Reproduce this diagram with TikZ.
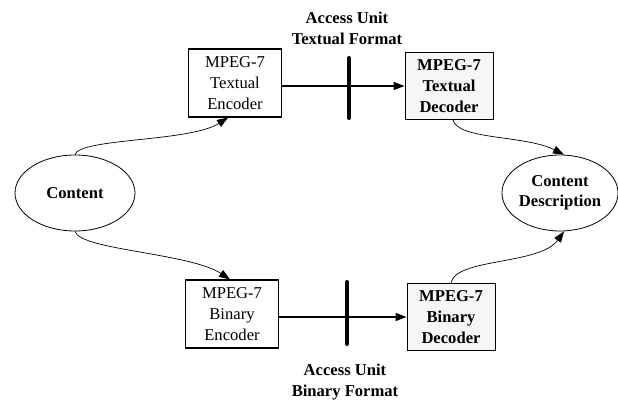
\documentclass[tikz,border=0pt]{standalone}
\usepackage{fontspec}
\setmainfont{Liberation Serif}
\usetikzlibrary{arrows.meta,shapes.geometric,calc}
\begin{document}
\begin{tikzpicture}[x=1pt,y=-1pt,
  every node/.style={font=\fontsize{16.6}{21}\selectfont},
  encbox/.style={draw,line width=1.1pt,rectangle,inner sep=0pt,align=center,
    minimum width=93pt,minimum height=68pt},
  decbox/.style={draw,line width=0.9pt,rectangle,inner sep=0pt,align=center,
    fill=gray!7,minimum width=88pt,minimum height=67pt,font=\fontsize{16.6}{21}\selectfont\bfseries},
  blob/.style={draw,line width=0.8pt,ellipse,inner sep=0pt,align=center,
    font=\fontsize{16.6}{20}\selectfont\bfseries},
  caption/.style={align=center,font=\fontsize{16.6}{21}\selectfont\bfseries},
  flow/.style={line width=1.3pt,-{Triangle[length=11pt,width=8pt]}},
  curve/.style={line width=0.7pt,-{Triangle[length=11pt,width=8pt]}},
  barline/.style={line width=4pt,line cap=round}]
\useasboundingbox (0,0) rectangle (618,406);

% encoders, decoders and the two end points of the chain
\node[encbox] (enct) at (235,83) {MPEG-7\\Textual\\Encoder};
\node[encbox] (encb) at (232,314) {MPEG-7\\Binary\\Encoder};
\node[decbox] (dect) at (449,86) {MPEG-7\\Textual\\Decoder};
\node[decbox] (decb) at (451,317) {MPEG-7\\Binary\\Decoder};
\node[blob,minimum width=120pt,minimum height=76pt] (content) at (75,193) {Content};
\node[blob,minimum width=114pt,minimum height=76pt] (desc) at (560,193) {Content\\Description};

% access unit labels
\node[caption] (lblt) at (347,28) {Access Unit\\Textual Format};
\node[caption] (lblb) at (345,382) {Access Unit\\Binary Format};

% access unit markers on the transport lines
\coordinate (bartA) at (349,58);
\coordinate (bartB) at (349,118);
\coordinate (barbA) at (347,282);
\coordinate (barbB) at (347,344);

% transport lines
\draw[flow] (enct.east |- dect.west) -- (dect.west);
\draw[flow] (encb.east |- decb.west) -- (decb.west);
\draw[barline] (bartA) -- (bartB);
\draw[barline] (barbA) -- (barbB);

% content into the encoders
\draw[curve] (content.north) .. controls (80,138) and (190,142) .. ($(enct.south)+(-7,0)$);
\draw[curve] (content.south) .. controls (80,250) and (190,253) .. ($(encb.north)+(-2,0)$);

% decoders into the description
\draw[curve] ($(dect.south)+(4,0)$) .. controls (458,140) and (525,135) .. ($(desc.north)+(4,0)$);
\draw[curve] (decb.north) .. controls (455,258) and (540,265) .. ($(desc.south)+(4,0)$);
\end{tikzpicture}
\end{document}
